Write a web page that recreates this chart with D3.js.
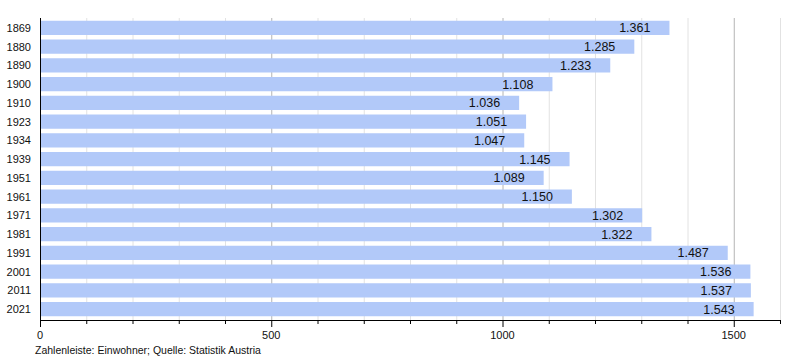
<!DOCTYPE html>
<html><head><meta charset="utf-8">
<script src="https://cdn.jsdelivr.net/npm/d3@7"></script>
<style>body{margin:0;background:#fff;font-family:"Liberation Sans",Arial,sans-serif;}</style>
</head><body><svg id="c" width="800" height="360"></svg>
<script>
const years = ["1869","1880","1890","1900","1910","1923","1934","1939","1951","1961","1971","1981","1991","2001","2011","2021"];
const population = [1361,1285,1233,1108,1036,1051,1047,1145,1089,1150,1302,1322,1487,1536,1537,1543];
const majorTicks = [0,500,1000,1500];
const caption = "Zahlenleiste: Einwohner; Quelle: Statistik Austria";

const svg = d3.select("#c");
const x = d3.scaleLinear().domain([0,1600]).range([40,780]);
const y = d3.scaleBand().domain(years).range([18.5,318.5]).paddingInner(0.24).paddingOuter(0.12);
const loc = d3.formatLocale({decimal:",",thousands:".",grouping:[3],currency:["","€"]});
const fmt = loc.format(",d");

const minor = d3.range(100,1601,100);
svg.append("g").selectAll("line").data(minor).join("line")
  .attr("x1",d=>x(d)+0.5).attr("x2",d=>x(d)+0.5).attr("y1",18).attr("y2",320)
  .attr("stroke",d=>d%500===0?"#b4b4b4":"#e2e2e2").attr("stroke-width",1);

svg.append("g").selectAll("rect").data(years).join("rect")
  .attr("x",x(0)).attr("y",d=>y(d)).attr("height",y.bandwidth())
  .attr("width",(d,i)=>x(population[i])-x(0)).attr("fill","#b2c9f9");

svg.append("g").selectAll("text").data(years).join("text")
  .attr("x",(d,i)=>x(population[i])-19).attr("y",d=>y(d)+y.bandwidth()/2+4.5)
  .attr("text-anchor","end").attr("font-size",12.5).attr("fill","#111")
  .text((d,i)=>fmt(population[i]));

svg.append("g").selectAll("text").data(years).join("text")
  .attr("x",31).attr("y",d=>y(d)+y.bandwidth()/2+4)
  .attr("text-anchor","end").attr("font-size",11).attr("fill","#111").text(d=>d);

svg.append("line").attr("x1",40.5).attr("x2",40.5).attr("y1",18).attr("y2",321).attr("stroke","#000");
svg.append("line").attr("x1",40).attr("x2",781).attr("y1",320.5).attr("y2",320.5).attr("stroke","#000");
svg.append("g").selectAll("line").data(d3.range(0,1601,100)).join("line")
  .attr("x1",d=>x(d)+0.5).attr("x2",d=>x(d)+0.5).attr("y1",320)
  .attr("y2",d=>majorTicks.includes(d)?327:324).attr("stroke","#000");
svg.append("g").selectAll("text").data(majorTicks).join("text")
  .attr("x",d=>x(d)).attr("y",339).attr("text-anchor","middle")
  .attr("font-size",11).attr("fill","#111").text(d=>d);

svg.append("text").attr("x",35).attr("y",354).attr("font-size",10.5).attr("fill","#111").text(caption);
</script></body></html>
